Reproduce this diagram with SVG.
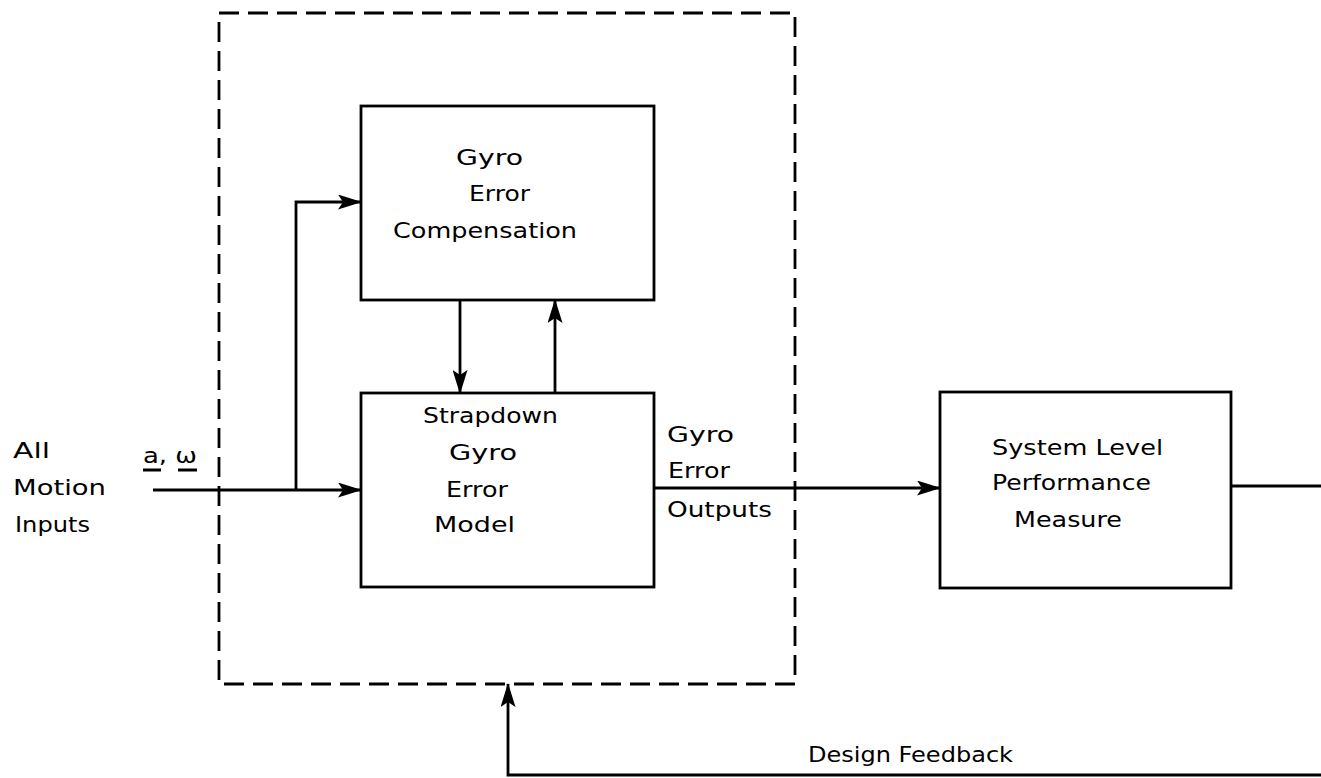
<svg xmlns="http://www.w3.org/2000/svg" width="1321" height="778" viewBox="0 0 1321 778">
<style>
.box{fill:none;stroke:#000;stroke-width:2.8}
.dash{fill:none;stroke:#000;stroke-width:2.8;stroke-dasharray:20 9}
.ln{fill:none;stroke:#000;stroke-width:2.8}
.arr{fill:none;stroke:#000;stroke-width:2.8;marker-end:url(#ah)}
text{font-family:"DejaVu Sans","Liberation Sans",sans-serif;font-size:21px;fill:#000}
</style>
<defs>
<marker id="ah" viewBox="0 0 24 15" refX="23" refY="7.5" markerWidth="24" markerHeight="15" markerUnits="userSpaceOnUse" orient="auto">
<path d="M0,0 L24,7.5 L0,15 L5,7.5 z" fill="#000"/>
</marker>
</defs>
<rect width="1321" height="778" fill="#fff"/>
<g id="enclosure">
<rect class="dash" x="219" y="13" width="576" height="671"/>
</g>
<g id="comp">
<rect class="box" x="361" y="106" width="293" height="194"/>
<text x="456" y="165" textLength="67" lengthAdjust="spacingAndGlyphs">Gyro</text>
<text x="469" y="201" textLength="61" lengthAdjust="spacingAndGlyphs">Error</text>
<text x="393" y="238" textLength="184" lengthAdjust="spacingAndGlyphs">Compensation</text>
</g>
<g id="model">
<rect class="box" x="361" y="393" width="293" height="194"/>
<text x="423" y="423" textLength="135" lengthAdjust="spacingAndGlyphs">Strapdown</text>
<text x="449" y="460" textLength="68" lengthAdjust="spacingAndGlyphs">Gyro</text>
<text x="446" y="497" textLength="62" lengthAdjust="spacingAndGlyphs">Error</text>
<text x="434" y="532" textLength="81" lengthAdjust="spacingAndGlyphs">Model</text>
</g>
<g id="perf">
<rect class="box" x="940" y="392" width="291" height="196"/>
<text x="992" y="455" textLength="171" lengthAdjust="spacingAndGlyphs">System Level</text>
<text x="992" y="490" textLength="159" lengthAdjust="spacingAndGlyphs">Performance</text>
<text x="1014" y="527" textLength="108" lengthAdjust="spacingAndGlyphs">Measure</text>
</g>
<g id="inputs">
<text x="13" y="458" textLength="37" lengthAdjust="spacingAndGlyphs">All</text>
<text x="13" y="495" textLength="93" lengthAdjust="spacingAndGlyphs">Motion</text>
<text x="15" y="532" textLength="75" lengthAdjust="spacingAndGlyphs">Inputs</text>
</g>
<g id="connectors">
<path class="arr" d="M153,490 L361,490"/>
<path class="arr" d="M296,490 L296,202 L361,202"/>
<path class="arr" d="M460,300 L460,393"/>
<path class="arr" d="M555,393 L555,300"/>
<path class="arr" d="M654,488 L940,488"/>
<path class="ln" d="M1231,486 L1321,486"/>
<path class="arr" d="M1321,775 L508,775 L508,684"/>
<text x="143" y="463" textLength="54" lengthAdjust="spacingAndGlyphs">a, ω</text>
<path class="ln" d="M143,470 L161,470 M178,470 L197,470" stroke-width="2.2"/>
<text x="667" y="442" textLength="67" lengthAdjust="spacingAndGlyphs">Gyro</text>
<text x="668" y="478" textLength="62" lengthAdjust="spacingAndGlyphs">Error</text>
<text x="667" y="517" textLength="105" lengthAdjust="spacingAndGlyphs">Outputs</text>
<text x="808" y="762" textLength="205" lengthAdjust="spacingAndGlyphs">Design Feedback</text>
</g>
</svg>
